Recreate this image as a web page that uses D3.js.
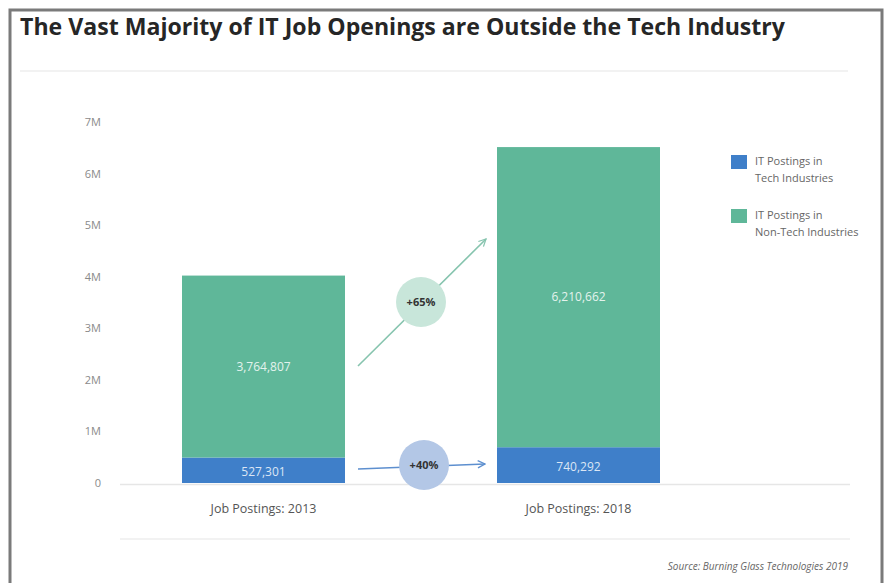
<!DOCTYPE html>
<html>
<head>
<meta charset="utf-8">
<script src="https://cdn.jsdelivr.net/npm/d3@7"></script>
<style>
  html, body { margin: 0; padding: 0; background: #fff; }
  svg { display: block; font-family: "Open Sans", "Noto Sans", sans-serif; }
</style>
</head>
<body>
<svg id="chart" width="885" height="583"></svg>
<script>
// IT job postings, by industry type
const years = ["Job Postings: 2013", "Job Postings: 2018"];
const techPostings = [527301, 740292];
const nonTechPostings = [3764807, 6210662];
const seriesNames = ["IT Postings in\nTech Industries", "IT Postings in\nNon-Tech Industries"];
const growthLabels = ["+40%", "+65%"];
const tickLabels = ["0", "1M", "2M", "3M", "4M", "5M", "6M", "7M"];
const sourceNote = "Source: Burning Glass Technologies 2019";
const title = "The Vast Majority of IT Job Openings are Outside the Tech Industry";

const colors = { tech: "#3f7fc9", nonTech: "#5fb799", techSoft: "#b3c7e6", nonTechSoft: "#c8e6da" };

const svg = d3.select("#chart");

// Frame and title
svg.append("path")
  .attr("d", "M10,583 V10 H882 V583")
  .attr("fill", "none").attr("stroke", "#7a7a7a").attr("stroke-width", 3);

svg.append("text")
  .attr("x", 20).attr("y", 35)
  .attr("font-size", 23).attr("font-weight", 700).attr("fill", "#262626")
  .attr("textLength", 765).attr("lengthAdjust", "spacingAndGlyphs")
  .text(title);

svg.append("line").attr("x1", 20).attr("x2", 848).attr("y1", 71).attr("y2", 71)
  .attr("stroke", "#eeeeee").attr("stroke-width", 1.5);

// Scales
const y = d3.scaleLinear().domain([0, 7.47e6]).range([483, 122]);
const yTicks = d3.scalePoint().domain(tickLabels).range([483, 122]);
// Bars are 163px wide, placed at 182 and 497
const barX = d3.scaleOrdinal().domain(years).range([182, 497]);
const barW = 163;

// Y axis labels
const yAxis = d3.axisLeft(yTicks).tickSize(0).tickPadding(0);
const gy = svg.append("g").attr("transform", "translate(101,0)").call(yAxis);
gy.select(".domain").remove();
gy.selectAll("text").attr("font-size", 11).attr("fill", "#8a8a8a")
  .attr("font-family", "Open Sans, sans-serif");

// Baseline and bottom rule
svg.append("line").attr("x1", 120).attr("x2", 850).attr("y1", 484.5).attr("y2", 484.5)
  .attr("stroke", "#e6e6e6").attr("stroke-width", 1.5);
svg.append("line").attr("x1", 120).attr("x2", 850).attr("y1", 539).attr("y2", 539)
  .attr("stroke", "#eeeeee").attr("stroke-width", 1.5);

// Stacked bars
const rows = years.map((yr, i) => ({ year: yr, tech: techPostings[i], nonTech: nonTechPostings[i] }));
const stack = d3.stack().keys(["tech", "nonTech"])(rows);

const layers = svg.append("g").selectAll("g").data(stack).join("g")
  .attr("fill", d => d.key === "tech" ? colors.tech : colors.nonTech);

layers.selectAll("rect").data(d => d).join("rect")
  .attr("x", d => barX(d.data.year))
  .attr("width", barW)
  .attr("y", d => y(d[1]))
  .attr("height", d => y(d[0]) - y(d[1]));

// Value labels inside bars
const fmt = d3.format(",");
layers.selectAll("text").data(d => d.map(p => Object.assign({ key: d.key }, p))).join("text")
  .attr("x", d => barX(d.data.year) + barW / 2)
  .attr("y", d => (y(d[0]) + y(d[1])) / 2 + (d.key === "tech" ? 6 : 4))
  .attr("text-anchor", "middle")
  .attr("font-size", 12)
  .attr("fill", d => d.key === "tech" ? "#dbe6f5" : "#e4f3ed")
  .text(d => fmt(d.data[d.key]));

// Category labels
years.forEach(yr => {
  svg.append("text")
    .attr("x", barX(yr) + barW / 2).attr("y", 513)
    .attr("text-anchor", "middle").attr("font-size", 12.5).attr("fill", "#555")
    .text(yr);
});

// Growth arrows
const defs = svg.append("defs");
function marker(id, color) {
  defs.append("marker").attr("id", id)
    .attr("viewBox", "0 0 10 10").attr("refX", 9).attr("refY", 5)
    .attr("markerWidth", 9).attr("markerHeight", 9).attr("orient", "auto")
    .attr("markerUnits", "userSpaceOnUse")
    .append("path").attr("d", "M1,1 L9,5 L1,9").attr("fill", "none")
    .attr("stroke", color).attr("stroke-width", 1.4);
}
marker("arrowGreen", "#86c4ae");
marker("arrowBlue", "#5d8fcf");

const growth = [
  { label: growthLabels[0], from: [358, 469], to: [485, 464], c: [424, 465], stroke: "#5d8fcf", fill: colors.techSoft, m: "arrowBlue" },
  { label: growthLabels[1], from: [358, 366], to: [486, 239], c: [421, 302], stroke: "#86c4ae", fill: colors.nonTechSoft, m: "arrowGreen" }
];

growth.forEach(g => {
  svg.append("line")
    .attr("x1", g.from[0]).attr("y1", g.from[1]).attr("x2", g.to[0]).attr("y2", g.to[1])
    .attr("stroke", g.stroke).attr("stroke-width", 1.6)
    .attr("marker-end", `url(#${g.m})`);
  svg.append("circle").attr("cx", g.c[0]).attr("cy", g.c[1]).attr("r", 25)
    .attr("fill", g.fill);
  svg.append("text").attr("x", g.c[0]).attr("y", g.c[1] + 4)
    .attr("text-anchor", "middle").attr("font-size", 11).attr("font-weight", 700)
    .attr("fill", "#333").text(g.label);
});

// Legend
const legend = svg.append("g").attr("transform", "translate(731,155)");
[colors.tech, colors.nonTech].forEach((c, i) => {
  const g = legend.append("g").attr("transform", `translate(0,${i * 54})`);
  g.append("rect").attr("width", 16).attr("height", 14).attr("fill", c);
  const t = g.append("text").attr("x", 24).attr("y", 10).attr("font-size", 11).attr("fill", "#666");
  seriesNames[i].split("\n").forEach((line, j) => {
    t.append("tspan").attr("x", 24).attr("dy", j === 0 ? 0 : 17).text(line);
  });
});

// Source note
svg.append("text").attr("x", 848).attr("y", 570)
  .attr("text-anchor", "end").attr("font-size", 10).attr("font-style", "italic")
  .attr("fill", "#666").text(sourceNote);
</script>
</body>
</html>
